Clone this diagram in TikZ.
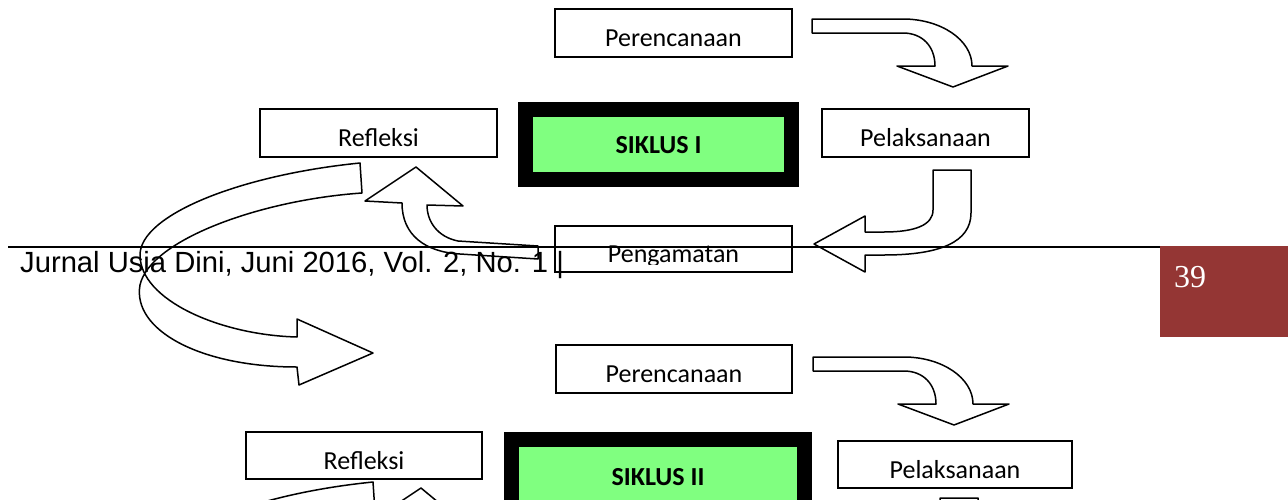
\documentclass[tikz,border=0pt]{standalone}
\usepackage{fontspec}
\setmainfont{Carlito}
\newfontfamily\footfont{Liberation Sans}
\newfontfamily\pagefont{Liberation Serif}
\definecolor{siklusgreen}{HTML}{80FF80}
\definecolor{pagered}{HTML}{943634}
\newcommand{\ArrOne}{\draw[arr] (812,19) -- (903,19) .. controls (941,19) and (972,40) .. (972,66) -- (1008,66) -- (953,87) -- (897,66) -- (935,66) .. controls (935,46) and (922,33) .. (903,33) -- (812,33) -- cycle;}
\newcommand{\ArrTwo}{\draw[arr] (933,170) -- (971,170) -- (971,213) .. controls (971,242) and (940,255) .. (884,255) -- (865,255) -- (865,272) -- (814,244) -- (865,216) -- (865,232) -- (884,232) .. controls (915,232) and (933,225) .. (933,210) -- cycle;}
\newcommand{\ArrThree}{\draw[arr] (538,246) -- (458,241) .. controls (438,237) and (427,222) .. (427,205) -- (463,206) -- (416,167) -- (365,201) -- (402,203) .. controls (402,235) and (425,252) .. (460,254) -- (538,259) -- cycle;}
\newcommand{\ArrFour}{\draw[arr] (362,193) .. controls (260,200) and (150,240) .. (140,285) .. controls (132,330) and (200,367) .. (297,367) -- (299,385) -- (373,353) -- (297,319) -- (297,337) .. controls (220,335) and (140,300) .. (140,255) .. controls (140,215) and (240,175) .. (360,163) -- cycle;}
\begin{document}
\begin{tikzpicture}[x=1pt,y=-1pt,
  box/.style={draw=black, line width=1.5pt, rectangle, inner sep=0pt, text height=27pt, text depth=0pt, font=\fontsize{26}{30}\selectfont},
  lbl/.style={inner sep=0pt, text height=27pt, text depth=0pt, font=\fontsize{26}{30}\selectfont},
  siklus/.style={draw=black, line width=15pt, fill=siklusgreen, rectangle, inner sep=0pt, text height=17pt, text depth=0pt, font=\bfseries\fontsize{26}{30}\selectfont},
  arr/.style={draw=black, line width=1.5pt, line join=round}]
\useasboundingbox (0,0) rectangle (1288,499);
\clip (0,0) rectangle (1288,499);
% ---------- cycle I ----------
\node[box, minimum width=237pt, minimum height=48pt] (per1) at (673.5,33) {Perencanaan};
\node[box, minimum width=237pt, minimum height=48pt] (ref1) at (378.5,133) {Refleksi};
\node[box, minimum width=207pt, minimum height=48pt] (pel1) at (925.5,133) {Pelaksanaan};
\node[siklus, minimum width=266pt, minimum height=70pt] (sik1) at (658.5,144.5) {SIKLUS I};
\node[box, minimum width=237pt, minimum height=46pt] (pen1) at (673.5,249) {};
\begin{scope}
\clip (0,0) rectangle (1288,264);
\node[lbl] (pen1t) at (pen1.center) {Pengamatan};
\end{scope}
\ArrOne
\ArrTwo
\ArrThree
\ArrFour
% ---------- cycle II ----------
\node[box, minimum width=236pt, minimum height=48pt] (per2) at (674,369) {Perencanaan};
\node[box, minimum width=236pt, minimum height=47pt] (ref2) at (364,455.5) {Refleksi};
\node[box, minimum width=234pt, minimum height=47pt] (pel2) at (955,464.5) {Pelaksanaan};
\node[siklus, minimum width=293pt, minimum height=75pt] (sik2) at (658,477) {SIKLUS II};
\begin{scope}[shift={(1,338)}]\ArrOne\end{scope}
\begin{scope}[shift={(7,328)}]\ArrTwo\end{scope}
\begin{scope}[shift={(5,321)}]\ArrThree\end{scope}
\begin{scope}[shift={(13,319)}]\ArrFour\end{scope}
% ---------- page footer ----------
\coordinate (fl) at (8,247);
\coordinate (fr) at (1160,247);
\draw[line width=2.5pt] (fl) -- (fr);
\node[anchor=base west, inner sep=0pt, font=\footfont\fontsize{29.2}{33}\selectfont] (foot) at (20,272) {Jurnal Usia Dini, Juni 2016, Vol. 2, No. 1 |};
\node[fill=pagered, inner sep=0pt, minimum width=128pt, minimum height=91pt, anchor=north west] (pg) at (1160,246) {};
\node[anchor=base west, inner sep=0pt, text=white, font=\pagefont\fontsize{32}{36}\selectfont] (pgnum) at (1174,287) {39};
\end{tikzpicture}
\end{document}
